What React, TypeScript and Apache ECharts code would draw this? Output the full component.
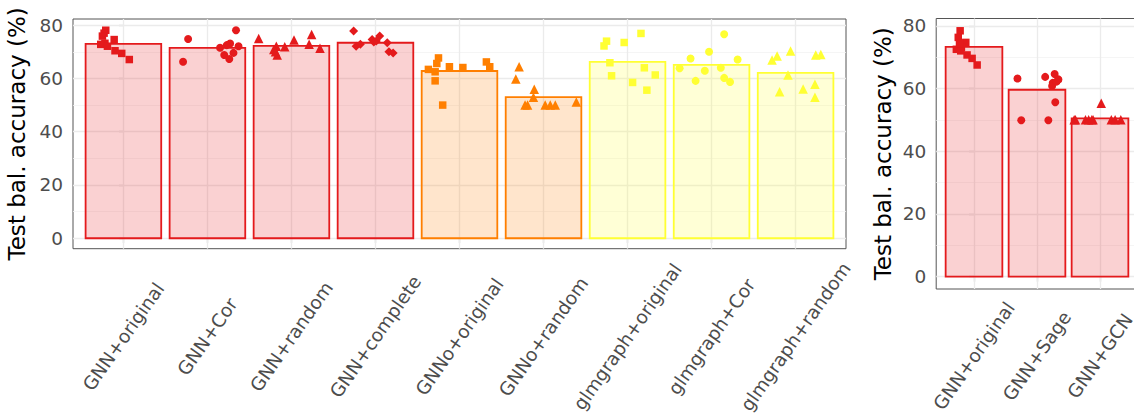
import React, { useEffect, useRef } from "react";
import * as echarts from "echarts";

// ---------- data ----------
const leftCategories = [
  "GNN+original",
  "GNN+Cor",
  "GNN+random",
  "GNN+complete",
  "GNNo+original",
  "GNNo+random",
  "glmgraph+original",
  "glmgraph+Cor",
  "glmgraph+random",
];
const leftMeans = [73.0, 71.5, 72.2, 73.4, 62.8, 53.0, 66.2, 65.1, 62.1];
const leftPoints = [
  [78.1, 77.0, 75.9, 74.6, 73.2, 72.8, 72.1, 70.4, 69.4, 67.1],
  [74.8, 66.3, 71.5, 73.1, 78.1, 72.1, 68.8, 67.3, 69.6, 72.5],
  [75.0, 72.1, 68.8, 70.0, 71.9, 74.4, 76.5, 72.8, 71.3, 70.9],
  [77.8, 72.1, 72.8, 74.6, 73.7, 75.9, 73.4, 70.0, 69.6, 74.1],
  [63.4, 62.5, 67.7, 65.6, 59.1, 50.0, 64.4, 64.1, 66.2, 64.4],
  [64.4, 59.8, 55.9, 52.9, 50.0, 50.0, 50.0, 50.0, 51.2, 50.0],
  [72.2, 74.0, 73.5, 76.9, 65.9, 61.0, 58.5, 64.0, 55.6, 61.3],
  [63.8, 67.5, 70.0, 76.6, 67.1, 62.9, 59.1, 64.0, 60.2, 58.7],
  [66.9, 68.4, 70.3, 61.3, 55.0, 56.0, 57.8, 68.8, 69.0, 52.9],
];
const leftJitter = [
  [-0.21, -0.23, -0.25, -0.11, -0.22, -0.27, -0.19, -0.1, -0.02, 0.07],
  [-0.23, -0.29, 0.15, 0.27, 0.34, 0.37, 0.2, 0.26, 0.31, 0.23],
  [-0.39, -0.18, -0.17, -0.19, -0.08, 0.03, 0.24, 0.21, 0.34, -0.21],
  [-0.26, -0.23, -0.18, -0.04, -0.02, 0.05, 0.14, 0.16, 0.21, 0.01],
  [-0.37, -0.29, -0.25, -0.27, -0.29, -0.2, -0.12, 0.04, 0.32, 0.36],
  [-0.29, -0.33, -0.11, -0.12, -0.19, 0.02, 0.08, 0.14, 0.39, -0.22],
  [-0.28, -0.25, -0.04, 0.16, -0.21, -0.19, 0.06, 0.2, 0.23, 0.33],
  [-0.38, -0.25, -0.03, 0.15, 0.31, -0.08, -0.19, 0.11, 0.15, 0.22],
  [-0.28, -0.22, -0.06, -0.09, -0.19, 0.09, 0.23, 0.24, 0.3, 0.23],
];

const rightCategories = ["GNN+original", "GNN+Sage", "GNN+GCN"];
const rightMeans = [73.3, 59.6, 50.5];
const rightPoints = [
  [78.4, 76.3, 74.7, 72.5, 73.1, 70.7, 69.6, 67.5, 72.0, 74.4],
  [63.2, 49.9, 63.7, 64.6, 62.9, 61.8, 60.8, 49.9, 55.6, 62.2],
  [50.0, 50.0, 50.0, 55.3, 50.0, 50.0, 50.0, 50.0, 50.0, 50.0],
];
const rightJitter = [
  [-0.22, -0.25, -0.13, -0.28, -0.2, -0.11, -0.03, 0.05, -0.21, -0.23],
  [-0.31, -0.25, 0.13, 0.28, 0.34, 0.25, 0.24, 0.18, 0.29, 0.31],
  [-0.41, -0.23, -0.11, 0.02, 0.18, 0.33, -0.18, 0.24, -0.39, -0.13],
];

const yTicks = [0, 20, 40, 60, 80];
const yMinorTicks = [10, 30, 50, 70];
const yTitle = "Test bal. accuracy (%)";

// ---------- styles ----------
const RED = "#E41A1C";
const ORANGE = "#FF7F00";
const YELLOW = "#FFFF33";
const leftColors = [RED, RED, RED, RED, ORANGE, ORANGE, YELLOW, YELLOW, YELLOW];
const leftShapes = ["rect", "circle", "triangle", "diamond", "rect", "triangle", "rect", "circle", "triangle"];
const rightColors = [RED, RED, RED];
const rightShapes = ["rect", "circle", "triangle"];
const shapeSize: Record<string, number> = { rect: 7.5, circle: 8, triangle: 9.5, diamond: 9 };

const FONT = "DejaVu Sans";
const TICK_FONT = 18.5;
const TITLE_FONT = 23;
const Y_MIN = -3.92;
const Y_MAX = 82.32;

function hexToRgba(hex: string, a: number) {
  const r = parseInt(hex.slice(1, 3), 16);
  const g = parseInt(hex.slice(3, 5), 16);
  const b = parseInt(hex.slice(5, 7), 16);
  return `rgba(${r},${g},${b},${a})`;
}

function panelSeries(
  gi: number,
  cats: string[],
  means: number[],
  points: number[][],
  jitter: number[][],
  colors: string[],
  shapes: string[]
) {
  const series: any[] = [];
  const major = { color: "#EBEBEB", width: 1.3, type: "solid" };
  const minor = { color: "#F2F2F2", width: 0.8, type: "solid" };
  series.push({
    type: "scatter",
    xAxisIndex: gi,
    yAxisIndex: gi,
    data: [[0, 0]],
    symbolSize: 0,
    silent: true,
    z: 1,
    markLine: {
      silent: true,
      symbol: ["none", "none"],
      label: { show: false },
      z: 1,
      animation: false,
      data: [
        ...yMinorTicks.map((v) => ({ yAxis: v, lineStyle: minor })),
        ...yTicks.map((v) => ({ yAxis: v, lineStyle: major })),
        ...cats.map((_, i) => ({ xAxis: i, lineStyle: major })),
      ],
    },
  });
  series.push({
    type: "custom",
    xAxisIndex: gi,
    yAxisIndex: gi,
    z: 2,
    encode: { x: 0, y: 1 },
    data: means.map((m, i) => [i, m]),
    renderItem: (params: any, api: any) => {
      const i = api.value(0);
      const v = api.value(1);
      const p0 = api.coord([i - 0.45, v]);
      const p1 = api.coord([i + 0.45, 0]);
      return {
        type: "rect",
        shape: { x: p0[0], y: p0[1], width: p1[0] - p0[0], height: p1[1] - p0[1] },
        style: { fill: hexToRgba(colors[i], 0.2), stroke: colors[i], lineWidth: 1.8 },
      };
    },
  });
  cats.forEach((c, i) => {
    series.push({
      type: "scatter",
      name: c,
      xAxisIndex: gi,
      yAxisIndex: gi,
      z: 3,
      symbol: shapes[i],
      symbolSize: shapeSize[shapes[i]],
      itemStyle: { color: colors[i], opacity: 1 },
      data: points[i].map((v, k) => [i + jitter[i][k], v]),
    });
  });
  return series;
}

function xAxisFor(gi: number, cats: string[], margin: number) {
  const idx = cats.map((_, i) => i);
  return {
    type: "value",
    gridIndex: gi,
    min: -0.6,
    max: cats.length - 1 + 0.6,
    axisLine: { show: false },
    splitLine: { show: false },
    axisTick: {
      show: true,
      customValues: idx,
      length: 5,
      lineStyle: { color: "#333333", width: 1.1 },
    },
    axisLabel: {
      customValues: idx,
      formatter: (v: number) => cats[Math.round(v)] ?? "",
      rotate: 55,
      align: "center",
      verticalAlign: "middle",
      margin,
      interval: 0,
      fontSize: TICK_FONT,
      color: "#4D4D4D",
      fontFamily: FONT,
    },
  };
}

function yAxisFor(gi: number) {
  return {
    type: "value",
    gridIndex: gi,
    min: Y_MIN,
    max: Y_MAX,
    name: yTitle,
    nameLocation: "middle",
    nameGap: 42,
    nameTextStyle: { fontSize: TITLE_FONT, color: "#000000", fontFamily: FONT },
    axisLine: { show: false },
    splitLine: { show: false },
    axisTick: {
      show: true,
      customValues: yTicks,
      length: 5,
      lineStyle: { color: "#333333", width: 1.1 },
    },
    axisLabel: {
      customValues: yTicks,
      margin: 10,
      fontSize: TICK_FONT,
      color: "#4D4D4D",
      fontFamily: FONT,
    },
  };
}

export default function App() {
  const ref = useRef<HTMLDivElement>(null);
  useEffect(() => {
    if (!ref.current) return;
    const chart = echarts.init(ref.current, null, { renderer: "svg" });
    const option: any = {
      animation: false,
      backgroundColor: "#FFFFFF",
      textStyle: { fontFamily: FONT },
      grid: [
        {
          left: 73,
          top: 19,
          width: 773,
          height: 229.7,
          show: true,
          borderColor: "#555555",
          borderWidth: 1,
          backgroundColor: "transparent",
          containLabel: false,
          outerBoundsMode: "none",
        },
        {
          left: 936.2,
          top: 18.5,
          width: 201.6,
          height: 270.5,
          show: true,
          borderColor: "#555555",
          borderWidth: 1,
          backgroundColor: "transparent",
          containLabel: false,
          outerBoundsMode: "none",
        },
      ],
      xAxis: [xAxisFor(0, leftCategories, 88), xAxisFor(1, rightCategories, 67)],
      yAxis: [yAxisFor(0), yAxisFor(1)],
      series: [
        ...panelSeries(0, leftCategories, leftMeans, leftPoints, leftJitter, leftColors, leftShapes),
        ...panelSeries(1, rightCategories, rightMeans, rightPoints, rightJitter, rightColors, rightShapes),
      ],
    };
    chart.setOption(option);
    return () => chart.dispose();
  }, []);
  return (
    <div
      ref={ref}
      style={{ position: "fixed", left: 0, top: 0, width: 1134, height: 415 }}
    />
  );
}
